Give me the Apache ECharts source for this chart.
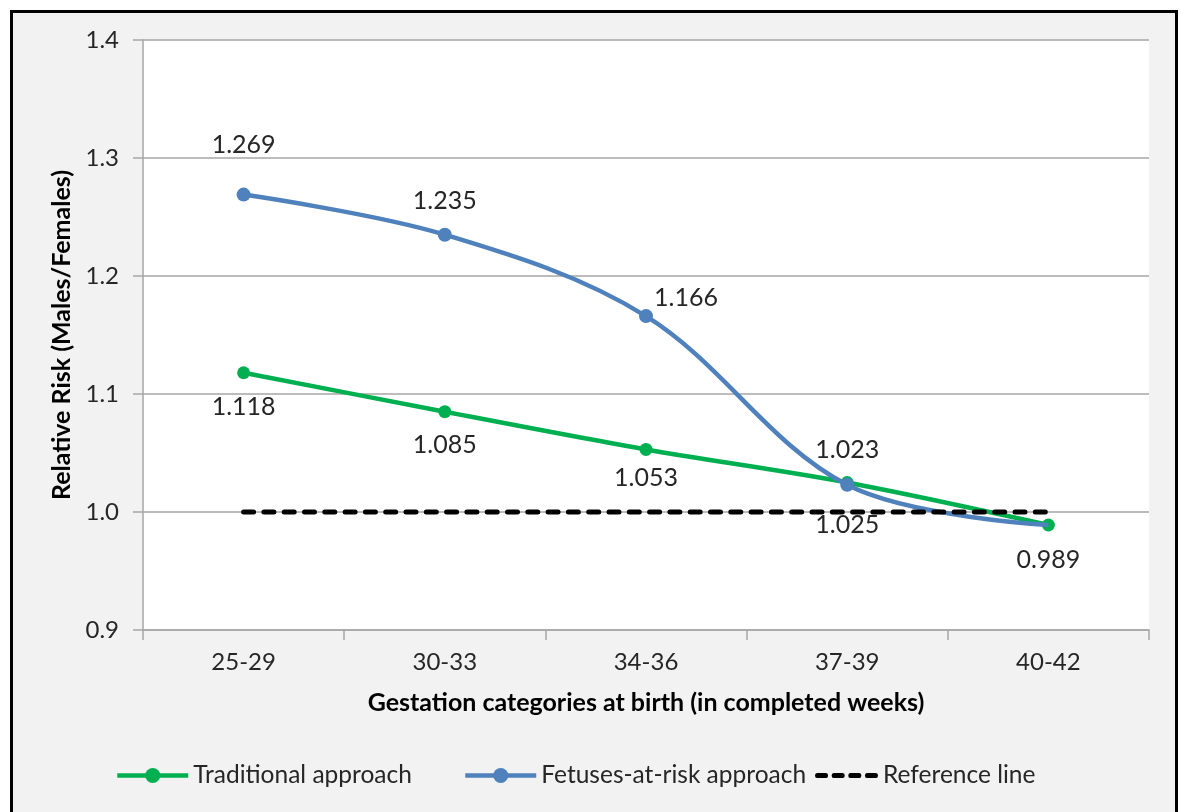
<!DOCTYPE html>
<html>
<head>
<meta charset="utf-8">
<style>
  html, body { margin: 0; padding: 0; background: #fff; }
  #chart { width: 1181px; height: 812px; }
</style>
<script src="https://cdn.jsdelivr.net/npm/echarts@6/dist/echarts.min.js"></script>
</head>
<body>
<div id="chart"></div>
<script>
// Gestation categories (completed weeks)
const categories = ['25-29', '30-33', '34-36', '37-39', '40-42'];
// Relative risk, males vs females
const traditional = [1.118, 1.085, 1.053, 1.025, 0.989];
const fetusesAtRisk = [1.269, 1.235, 1.166, 1.023, 0.989];
const referenceLine = [1.0, 1.0, 1.0, 1.0, 1.0];
// Value axis ticks
const yTicks = [0.9, 1.0, 1.1, 1.2, 1.3, 1.4];

const FONT = 'Lato, "Noto Sans", sans-serif';
const TEXT = '#262626';
const GREEN = '#00b050';
const BLUE = '#4f81bd';

// Label placement around each marker (label centre relative to the point)
const blueLabelOffsets = [[0, -50], [0, -34], [40, -18], [0, -35], null];
const greenLabelOffsets = [[0, 34], [0, 33], [0, 28], [0, 42], [0, 35]];

function labelled(values, offsets) {
  return values.map((v, i) => {
    const off = offsets[i];
    if (!off) return { value: v, label: { show: false }, symbol: 'none' };
    return { value: v, label: { show: true, position: 'inside', offset: off } };
  });
}

const labelStyle = {
  show: true,
  fontFamily: FONT,
  fontSize: 25,
  color: TEXT,
  formatter: p => p.value.toFixed(3)
};

// Four rounded dashes for the reference-line legend key
const dashIcon = 'path://' + [0, 16.5, 33, 49.5].map(x =>
  `M${x + 2},0 h9 a2,2 0 0 1 0,4 h-9 a2,2 0 0 1 0,-4 z`).join(' ');

const legendText = { fontFamily: FONT, fontSize: 24.5, color: TEXT };

const chart = echarts.init(document.getElementById('chart'), null, { renderer: 'canvas' });

chart.setOption({
  backgroundColor: '#ffffff',
  animation: false,
  graphic: [{
    type: 'rect',
    z: -100,
    silent: true,
    shape: { x: 11.5, y: 11.5, width: 1165, height: 830 },
    style: { fill: '#f2f2f2', stroke: '#000000', lineWidth: 3 }
  }],
  grid: {
    left: 143, right: 32, top: 40, bottom: 182,
    show: true, backgroundColor: '#ffffff', borderWidth: 0
  },
  legend: [
    {
      data: ['Traditional approach'], left: 115, top: 763, padding: 0,
      itemWidth: 71, itemHeight: 19, itemGap: 7,
      lineStyle: { width: 4.5 },
      textStyle: legendText
    },
    {
      data: ['Fetuses-at-risk approach'], left: 463, top: 763, padding: 0,
      itemWidth: 71, itemHeight: 19, itemGap: 7,
      lineStyle: { width: 4.5 },
      textStyle: legendText
    },
    {
      data: [{ name: 'Reference line', icon: dashIcon }], left: 815, top: 763, padding: 0,
      itemWidth: 63, itemHeight: 5, itemGap: 5,
      symbolKeepAspect: false,
      itemStyle: { color: '#000000' },
      textStyle: legendText
    }
  ],
  xAxis: {
    type: 'category',
    data: categories,
    boundaryGap: true,
    name: 'Gestation categories at birth (in completed weeks)',
    nameLocation: 'middle',
    nameGap: 60,
    nameTextStyle: { fontFamily: FONT, fontSize: 25, fontWeight: 'bold', color: '#000' },
    axisLine: { lineStyle: { color: '#a6a6a6', width: 1.5 } },
    axisTick: { show: true, length: 10, lineStyle: { color: '#a6a6a6', width: 1.5 } },
    axisLabel: { fontFamily: FONT, fontSize: 24, color: TEXT, margin: 20 },
    splitLine: { show: false }
  },
  yAxis: {
    type: 'value',
    min: yTicks[0],
    max: yTicks[yTicks.length - 1],
    interval: 0.1,
    name: 'Relative Risk (Males/Females)',
    nameLocation: 'middle',
    nameGap: 68,
    nameRotate: 90,
    nameTextStyle: { fontFamily: FONT, fontSize: 25, fontWeight: 'bold', color: '#000' },
    axisLine: { show: true, lineStyle: { color: '#a6a6a6', width: 1.5 } },
    axisTick: { show: true, length: 10, lineStyle: { color: '#a6a6a6', width: 1.5 } },
    axisLabel: {
      fontFamily: FONT, fontSize: 24, color: TEXT, margin: 24,
      formatter: v => v.toFixed(1)
    },
    splitLine: { show: true, lineStyle: { color: '#a6a6a6', width: 1.5 } }
  },
  series: [
    {
      name: 'Traditional approach',
      type: 'line',
      z: 3,
      data: labelled(traditional, greenLabelOffsets),
      smooth: 0.3,
      symbol: 'circle',
      symbolSize: 13,
      lineStyle: { color: GREEN, width: 4.5 },
      itemStyle: { color: GREEN },
      label: labelStyle
    },
    {
      name: 'Fetuses-at-risk approach',
      type: 'line',
      z: 4,
      data: labelled(fetusesAtRisk, blueLabelOffsets),
      smooth: 0.35,
      symbol: 'circle',
      symbolSize: 14,
      lineStyle: { color: BLUE, width: 4.5 },
      itemStyle: { color: BLUE },
      label: labelStyle
    },
    {
      name: 'Reference line',
      type: 'line',
      z: 5,
      data: referenceLine,
      symbol: 'none',
      lineStyle: { color: '#000000', width: 5, type: [10, 10.3], cap: 'round' },
      itemStyle: { color: '#000000' }
    }
  ]
});
</script>
</body>
</html>
